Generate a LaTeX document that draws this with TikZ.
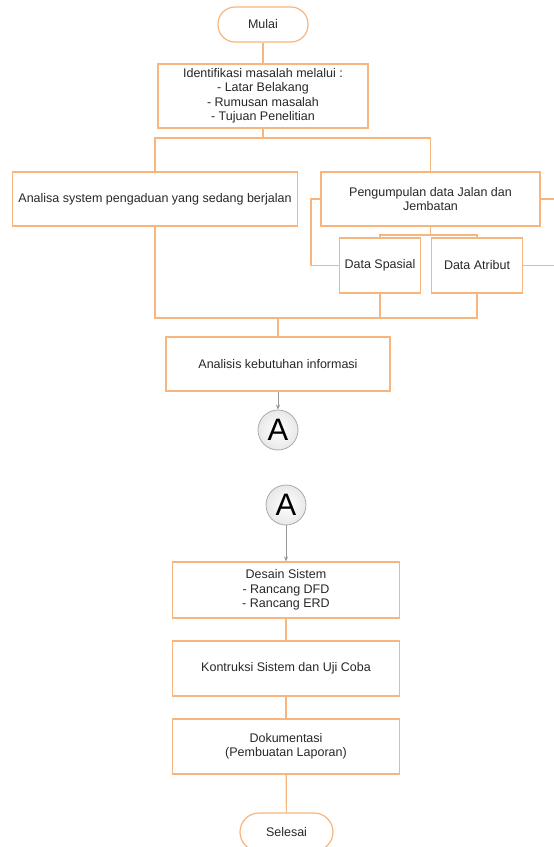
\documentclass[tikz,border=0pt]{standalone}
\usepackage{fontspec}
\setmainfont{Liberation Sans}
\usetikzlibrary{arrows.meta,shadings}
\definecolor{lineor}{RGB}{247,182,125}
\definecolor{txt}{RGB}{40,40,40}
\definecolor{cgray}{RGB}{150,150,150}
\begin{document}
\begin{tikzpicture}[x=1pt,y=-1pt,
  every node/.style={font=\fontsize{12.5}{14.5}\selectfont, text=txt},
  box/.style={draw=lineor, line width=1.2pt, fill=white, align=center, inner sep=0pt},
  term/.style={box, rounded corners=17pt},
  conn/.style={draw=cgray!80, line width=0.8pt, circle, minimum size=40pt, inner sep=0pt,
     inner color=white, outer color=gray!18, font=\fontsize{31}{31}\selectfont, text=black},
  ln/.style={draw=lineor, line width=1.2pt},
  garrow/.style={draw=cgray, line width=0.8pt, -{Stealth[length=5pt,width=4pt]}}]
\useasboundingbox (0,0) rectangle (554,847);
\clip (0,0) rectangle (554,847);
\fill[white] (0,0) rectangle (554,847);

\node[term, minimum width=90pt, minimum height=35pt] (mulai) at (263,24.5) {Mulai};
\node[box, minimum width=210pt, minimum height=64pt] (ident) at (263,96)
  {Identifikasi masalah melalui :\\- Latar Belakang\\- Rumusan masalah\\- Tujuan Penelitian};
\node[box, minimum width=285pt, minimum height=54pt] (analisa) at (155,199)
  {Analisa system pengaduan yang sedang berjalan};
\node[box, minimum width=219pt, minimum height=54pt] (pengump) at (430.5,199)
  {Pengumpulan data Jalan dan\\Jembatan};
\node[box, minimum width=81pt, minimum height=55pt] (spasial) at (380,265.5) {Data Spasial};
\node[box, minimum width=91pt, minimum height=55pt] (atribut) at (477,265.5) {Data Atribut};
\node[box, minimum width=224pt, minimum height=54pt] (analisis) at (278,364) {Analisis kebutuhan informasi};
\node[conn] (A1) at (278,430) {A};
\node[conn] (A2) at (286,505) {A};
\node[box, minimum width=227pt, minimum height=56pt] (desain) at (286,590)
  {Desain Sistem\\- Rancang DFD\\- Rancang ERD};
\node[box, minimum width=227pt, minimum height=55pt] (kontruksi) at (286,668.5)
  {Kontruksi Sistem dan Uji Coba};
\node[box, minimum width=227pt, minimum height=55pt] (dokum) at (286,746.5)
  {Dokumentasi\\(Pembuatan Laporan)};
\node[term, minimum width=93pt, minimum height=38pt, rounded corners=19pt] (selesai) at (286.5,832) {Selesai};

\coordinate (t1) at (263,138);
\coordinate (t2) at (430.5,235);
\coordinate (lb) at (311,199);
\coordinate (re) at (560,0);
\coordinate (b1) at (278,318);

\draw[ln] (mulai) -- (ident);
\draw[ln] (ident.south) -- (t1);
\draw[ln] (analisa.north) |- (t1) -| (pengump.north);
\draw[ln] (pengump.south) -- (t2);
\draw[ln] (spasial.north) |- (t2) -| (atribut.north);
\draw[ln] (pengump.west) -- (lb) |- (spasial.west);
\draw[ln] (pengump.east) -- (pengump.east -| re);
\draw[ln] (atribut.east) -- (atribut.east -| re);
\draw[ln] (analisa.south) |- (b1) -| (atribut.south);
\draw[ln] (spasial.south) -- (spasial.south |- b1);
\draw[ln] (b1) -- (analisis.north);
\draw[garrow] (analisis.south) -- (A1.north);
\draw[garrow] (A2.south) -- (desain.north);
\draw[ln] (desain) -- (kontruksi);
\draw[ln] (kontruksi) -- (dokum);
\draw[ln] (dokum) -- (selesai);
\end{tikzpicture}
\end{document}
